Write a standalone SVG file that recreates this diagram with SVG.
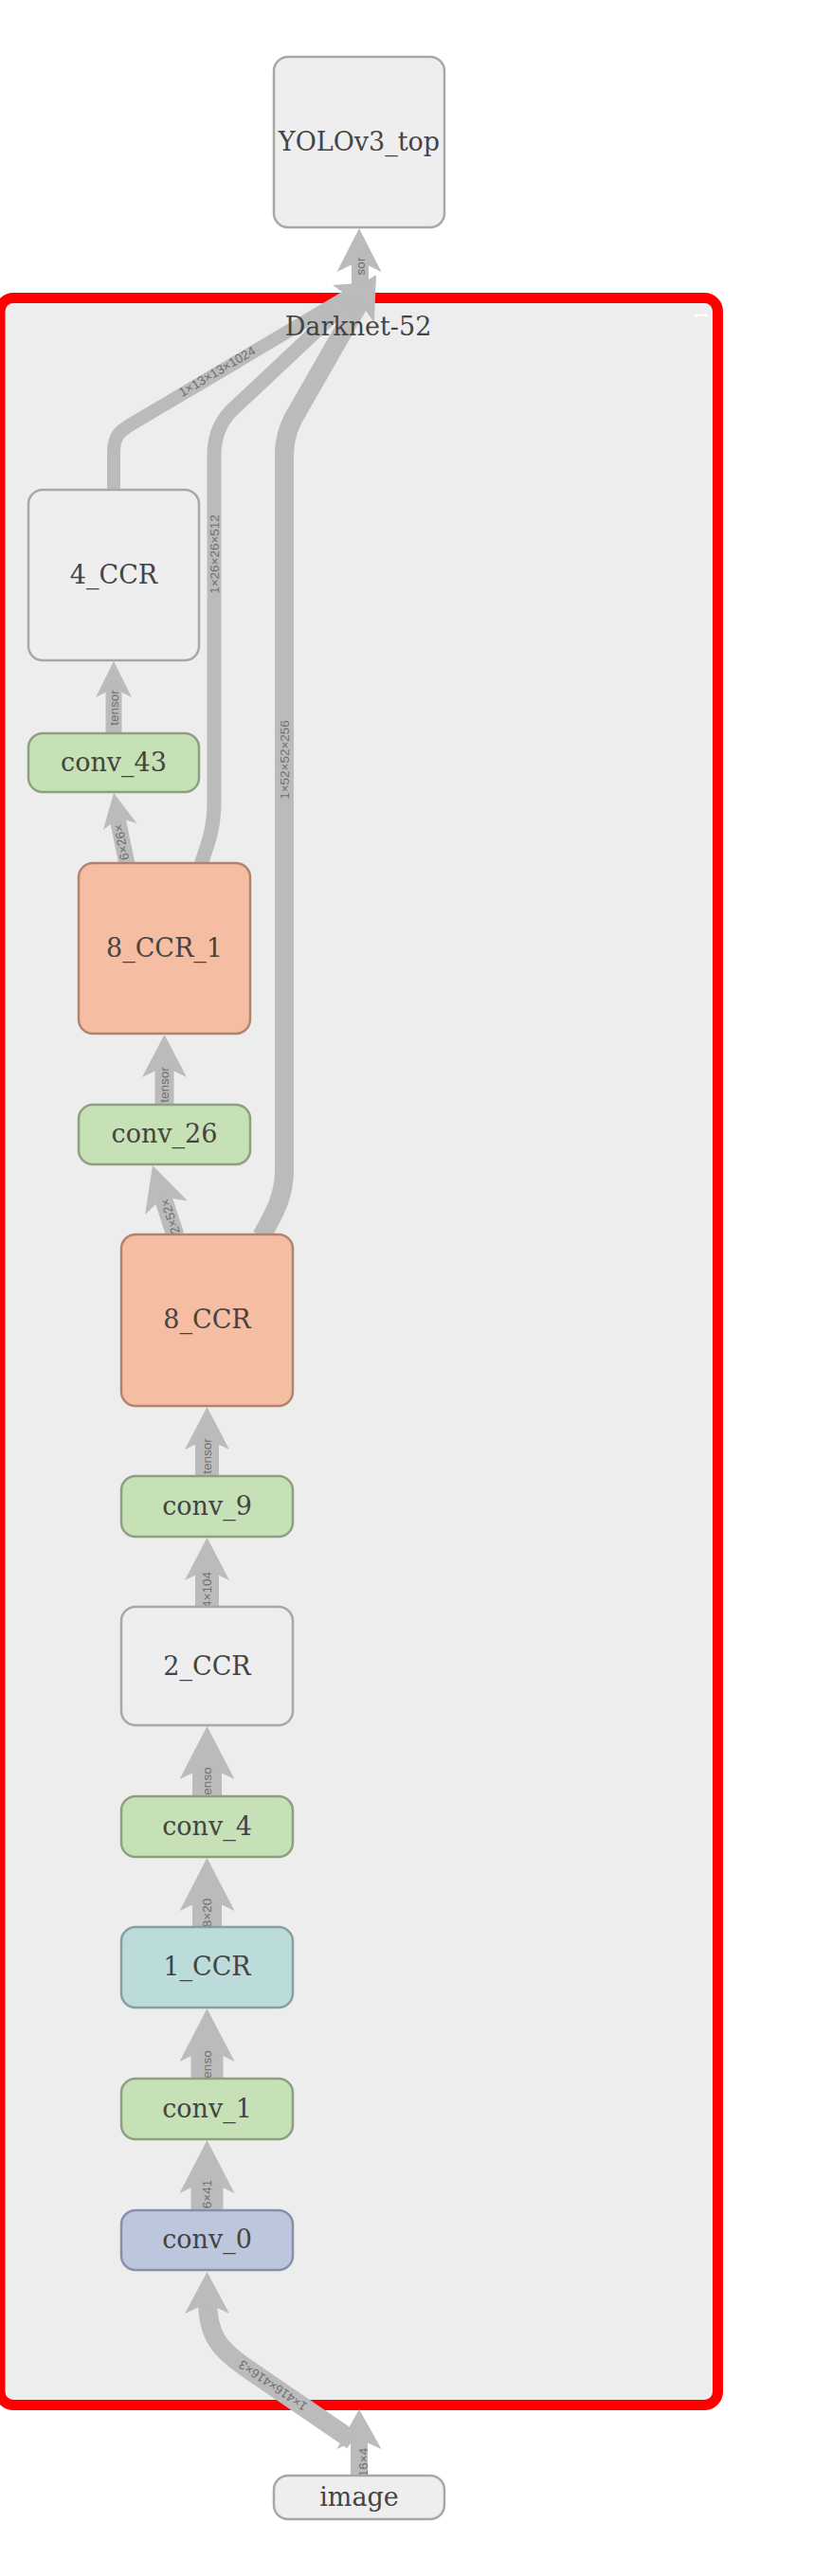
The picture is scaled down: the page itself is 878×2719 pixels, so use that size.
<svg xmlns="http://www.w3.org/2000/svg" width="878" height="2719" viewBox="0 0 878 2719">
<style>
.n{font-family:"DejaVu Serif",serif;font-size:27px;fill:#444;text-anchor:middle}
.t{font-family:"DejaVu Serif",serif;font-size:27px;fill:#444;text-anchor:middle}
.l{font-family:"Liberation Sans",Arial,sans-serif;font-size:13.5px;fill:#707070;text-anchor:middle}
.s{fill:none;stroke:#bbb;stroke-linecap:butt;stroke-linejoin:round}
.a{fill:#bbb}
.g rect{fill:#eee;stroke:#a8a8a8;stroke-width:2.5}
.gr rect{fill:#c5e1b5;stroke:#8da081;stroke-width:2.5}
.sa rect{fill:#f5bda2;stroke:#b0846f;stroke-width:2.5}
.bl rect{fill:#bcdcdc;stroke:#86a0a0;stroke-width:2.5}
.bv rect{fill:#bcc6dd;stroke:#8790a8;stroke-width:2.5}
</style>
<defs>
<path id="ah" d="M0,0 L0.5,1 L0,0.75 L-0.5,1 Z"/>
</defs>
<rect x="0" y="0" width="878" height="2719" fill="#fff"/>
<g id="cluster-darknet52">
<rect x="0" y="314.5" width="757.5" height="2224" rx="14" fill="#ededed" stroke="#f00" stroke-width="11"/>
<rect x="733" y="331.5" width="14" height="2.5" fill="#fff"/>
</g>
<g id="connectors">
<path class="s" stroke-width="18" d="M379 2614 V2575"/>
<path class="s" stroke-width="20" d="M372 2576 L258 2498 C232 2480 219 2465 219 2428"/>
<path class="s" stroke-width="34" d="M218.5 2334 V2300"/>
<path class="s" stroke-width="34" d="M218.5 2195 V2160"/>
<path class="s" stroke-width="31" d="M218.5 2035 V2000"/>
<path class="s" stroke-width="31" d="M218.5 1897 V1862"/>
<path class="s" stroke-width="25" d="M218.5 1697 V1655"/>
<path class="s" stroke-width="25" d="M218.5 1559 V1517"/>
<path class="s" stroke-width="19" d="M185 1304 L170 1258"/>
<path class="s" stroke-width="20" d="M173.5 1167 V1125"/>
<path class="s" stroke-width="17" d="M134 912 L124 864"/>
<path class="s" stroke-width="17" d="M120 775 V725"/>
<path class="s" stroke-width="14" d="M120 518 V478 C120 460 125 455 145 444 L378 306"/>
<path class="s" stroke-width="15" d="M212 912 C222 885 226 870 226 845 V480 Q226 448 250 428 L382 304"/>
<path class="s" stroke-width="20" d="M276 1305 C290 1280 300 1262 300 1235 V480 Q300 455 315 432 L386 308"/>
<path class="s" stroke-width="18" d="M380 314 V272"/>
<use class="a" href="#ah" transform="translate(379,2543) scale(47,42)"/>
<use class="a" href="#ah" transform="translate(218.5,2398) scale(47,44)"/>
<use class="a" href="#ah" transform="translate(218.5,2259) scale(58,56)"/>
<use class="a" href="#ah" transform="translate(218.5,2120) scale(58,56)"/>
<use class="a" href="#ah" transform="translate(218.5,1961) scale(58,56)"/>
<use class="a" href="#ah" transform="translate(218.5,1822) scale(58,56)"/>
<use class="a" href="#ah" transform="translate(218.5,1623) scale(47,45)"/>
<use class="a" href="#ah" transform="translate(218.5,1485) scale(47,45)"/>
<use class="a" href="#ah" transform="translate(161,1230) rotate(-18) scale(47,47)"/>
<use class="a" href="#ah" transform="translate(173.5,1092) scale(47,45)"/>
<use class="a" href="#ah" transform="translate(120,837) rotate(-10.7) scale(36,36)"/>
<use class="a" href="#ah" transform="translate(120,698) scale(38,38)"/>
<use class="a" href="#ah" transform="translate(391,298) rotate(59) scale(36,36)"/>
<use class="a" href="#ah" transform="translate(395,294) rotate(47) scale(36,36)"/>
<use class="a" href="#ah" transform="translate(397,290) rotate(30) scale(47,45)"/>
<use class="a" href="#ah" transform="translate(379,241) scale(47,46)"/>
<text class="l" transform="translate(383,2599) rotate(-90)" dy="4.7">16×4</text>
<text class="l" transform="translate(288,2518) rotate(214.4)" dy="4.7">1×416×416×3</text>
<text class="l" transform="translate(218.5,2316) rotate(-90)" dy="4.7">6×41</text>
<text class="l" transform="translate(218.5,2179) rotate(-90)" dy="4.7">enso</text>
<text class="l" transform="translate(218.5,2019) rotate(-90)" dy="4.7">8×20</text>
<text class="l" transform="translate(218.5,1880) rotate(-90)" dy="4.7">enso</text>
<text class="l" transform="translate(218.5,1678) rotate(-90)" dy="4.7">4×104</text>
<text class="l" transform="translate(218.5,1537) rotate(-90)" dy="4.7">tensor</text>
<text class="l" transform="translate(179.5,1284) rotate(-108)" dy="4.7">2×52×</text>
<text class="l" transform="translate(173.5,1145) rotate(-90)" dy="4.7">tensor</text>
<text class="l" transform="translate(128,889) rotate(-100.7)" dy="4.7">6×26×</text>
<text class="l" transform="translate(120,747) rotate(-90)" dy="4.7">tensor</text>
<text class="l" transform="translate(229,392) rotate(-30.6)" dy="4.7">1×13×13×1024</text>
<text class="l" transform="translate(226,585) rotate(-90)" dy="4.7">1×26×26×512</text>
<text class="l" transform="translate(300,802) rotate(-90)" dy="4.7">1×52×52×256</text>
<text class="l" transform="translate(380,281) rotate(-90)" dy="4.7">sor</text>
</g>
<text class="t" x="378" y="354">Darknet-52</text>
<g id="YOLOv3_top" class="g"><rect x="289" y="60" width="180" height="180" rx="15"/><text class="n" x="379" y="159">YOLOv3_top</text></g>
<g id="n_4_CCR" class="g"><rect x="30" y="517" width="180" height="180" rx="15"/><text class="n" x="120" y="616">4_CCR</text></g>
<g id="conv_43" class="gr"><rect x="30" y="774" width="180" height="62" rx="15"/><text class="n" x="120" y="814">conv_43</text></g>
<g id="n_8_CCR_1" class="sa"><rect x="83" y="911" width="181" height="180" rx="15"/><text class="n" x="173.5" y="1010">8_CCR_1</text></g>
<g id="conv_26" class="gr"><rect x="83" y="1166" width="181" height="63" rx="15"/><text class="n" x="173.5" y="1206">conv_26</text></g>
<g id="n_8_CCR" class="sa"><rect x="128" y="1303" width="181" height="181" rx="15"/><text class="n" x="218.5" y="1402">8_CCR</text></g>
<g id="conv_9" class="gr"><rect x="128" y="1558" width="181" height="64" rx="15"/><text class="n" x="218.5" y="1598.5">conv_9</text></g>
<g id="n_2_CCR" class="g"><rect x="128" y="1696" width="181" height="125" rx="15"/><text class="n" x="218.5" y="1768">2_CCR</text></g>
<g id="conv_4" class="gr"><rect x="128" y="1896" width="181" height="64" rx="15"/><text class="n" x="218.5" y="1936.5">conv_4</text></g>
<g id="n_1_CCR" class="bl"><rect x="128" y="2034" width="181" height="85" rx="15"/><text class="n" x="218.5" y="2085">1_CCR</text></g>
<g id="conv_1" class="gr"><rect x="128" y="2194" width="181" height="64" rx="15"/><text class="n" x="218.5" y="2234.5">conv_1</text></g>
<g id="conv_0" class="bv"><rect x="128" y="2333" width="181" height="63" rx="15"/><text class="n" x="218.5" y="2373">conv_0</text></g>
<g id="image" class="g"><rect x="289" y="2613" width="180" height="46" rx="15"/><text class="n" x="379" y="2645">image</text></g>
</svg>
